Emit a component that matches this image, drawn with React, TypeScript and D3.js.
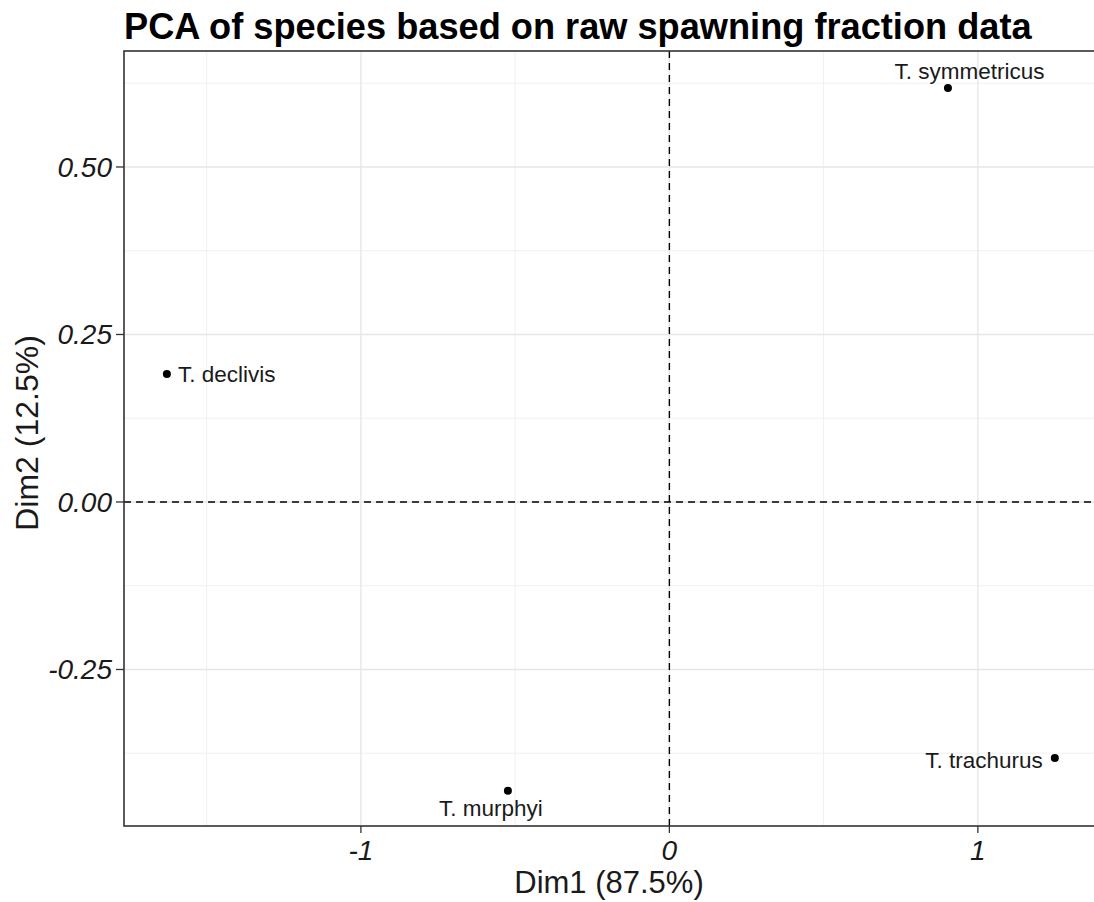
import React from "react";
import * as d3 from "d3";

const species = ["T. symmetricus", "T. declivis", "T. murphyi", "T. trachurus"];
const dim1 = [0.903, -1.629, -0.5235, 1.2495];
const dim2 = [0.618, 0.191, -0.431, -0.382];
const labelPos = ["top", "right", "bottom", "left"];
const xTicks = [-1, 0, 1];
const xMinor = [-1.5, -0.5, 0.5, 1.5];
const yTicks = [-0.25, 0, 0.25, 0.5];
const yMinor = [-0.375, -0.125, 0.125, 0.375, 0.625];

const W = 1094, H = 902;
const L = 124, R = 1096, T = 51, B = 826;

const fmtY = (v: number) => d3.format(".2f")(v).replace("\u2212", "-");
const fmtX = (v: number) => d3.format("d")(v).replace("\u2212", "-");

export default function App() {
  const x = d3.scaleLinear().domain([-1.768, 1.383]).range([L, R]);
  const y = d3.scaleLinear().domain([-0.4836, 0.6731]).range([B, T]);
  const font = "'Liberation Sans', Arial, sans-serif";
  return (
    <svg width={W} height={H} style={{ position: "absolute", left: 0, top: 0, background: "#fff" }} fontFamily={font}>
      <rect x={0} y={0} width={W} height={H} fill="#fff" />
      <text x={124} y={39} fontSize={36.2} fontWeight="bold" fill="#000">PCA of species based on raw spawning fraction data</text>
      {xMinor.map((v) => (
        <line key={"xm" + v} x1={x(v)} x2={x(v)} y1={T} y2={B} stroke="#f0f0f0" strokeWidth={1} />
      ))}
      {yMinor.map((v) => (
        <line key={"ym" + v} x1={L} x2={R} y1={y(v)} y2={y(v)} stroke="#f0f0f0" strokeWidth={1} />
      ))}
      {xTicks.map((v) => (
        <line key={"xg" + v} x1={x(v)} x2={x(v)} y1={T} y2={B} stroke="#e6e6e6" strokeWidth={1.3} />
      ))}
      {yTicks.map((v) => (
        <line key={"yg" + v} x1={L} x2={R} y1={y(v)} y2={y(v)} stroke="#e6e6e6" strokeWidth={1.3} />
      ))}
      <line x1={x(0)} x2={x(0)} y1={T} y2={B} stroke="#000" strokeWidth={1.4} strokeDasharray="7,5" />
      <line x1={L} x2={R} y1={y(0)} y2={y(0)} stroke="#000" strokeWidth={1.4} strokeDasharray="7,5" />
      {species.map((s, i) => {
        const px = x(dim1[i]), py = y(dim2[i]);
        const pos = labelPos[i];
        let tx = px, ty = py, anchor: any = "middle";
        if (pos === "top") { tx = px + 21.5; ty = py - 9; }
        if (pos === "bottom") { tx = px - 17; ty = py + 25; }
        if (pos === "right") { tx = px + 11; ty = py + 8; anchor = "start"; }
        if (pos === "left") { tx = px - 12; ty = py + 10; anchor = "end"; }
        return (
          <g key={s}>
            <circle cx={px} cy={py} r={4} fill="#000" />
            <text x={tx} y={ty} fontSize={22.5} fill="#1a1a1a" textAnchor={anchor}>{s}</text>
          </g>
        );
      })}
      <rect x={L} y={T} width={R - L} height={B - T} fill="none" stroke="#333" strokeWidth={1.6} />
      {yTicks.map((v) => (
        <g key={"yt" + v}>
          <line x1={L - 8} x2={L} y1={y(v)} y2={y(v)} stroke="#333" strokeWidth={1.3} />
          <text x={L - 12} y={y(v) + 10} fontSize={28} fontStyle="italic" fill="#1a1a1a" textAnchor="end">{fmtY(v)}</text>
        </g>
      ))}
      {xTicks.map((v) => (
        <g key={"xt" + v}>
          <line x1={x(v)} x2={x(v)} y1={B} y2={B + 7} stroke="#333" strokeWidth={1.3} />
          <text x={x(v)} y={B + 34} fontSize={28} fontStyle="italic" fill="#1a1a1a" textAnchor="middle">{fmtX(v)}</text>
        </g>
      ))}
      <text x={(L + 1094) / 2} y={893} fontSize={31} fill="#1a1a1a" textAnchor="middle">Dim1 (87.5%)</text>
      <text transform={`translate(38,433) rotate(-90)`} fontSize={32} fill="#1a1a1a" textAnchor="middle">Dim2 (12.5%)</text>
    </svg>
  );
}
